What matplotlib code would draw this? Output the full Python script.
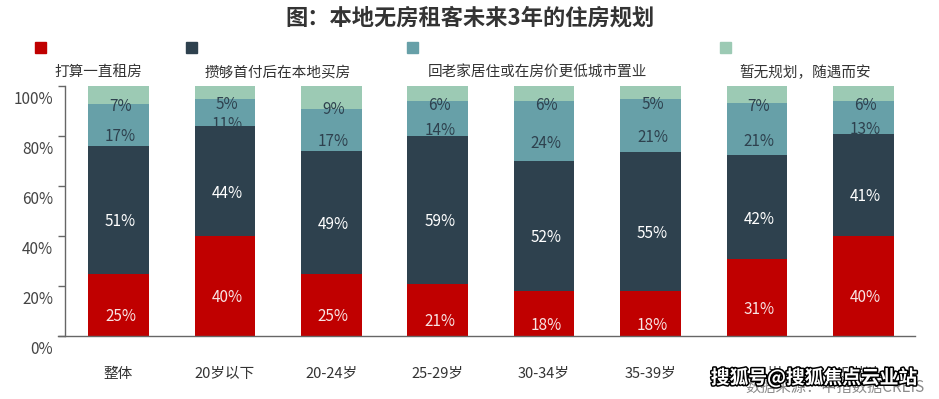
import matplotlib
matplotlib.use("Agg")
import matplotlib.pyplot as plt
import matplotlib.transforms as mtransforms
import matplotlib.patheffects as pe
import numpy as np

plt.rcParams['font.family'] = ['Noto Sans CJK SC', 'DejaVu Sans']

title = "图：本地无房租客未来3年的住房规划"
categories = ["整体", "20岁以下", "20-24岁", "25-29岁", "30-34岁", "35-39岁", "40-44岁", "45岁以上"]
series_names = ["打算一直租房", "攒够首付后在本地买房", "回老家居住或在房价更低城市置业", "暂无规划，随遇而安"]
rent = [25, 40, 25, 21, 18, 18, 31, 40]
buy_local = [51, 44, 49, 59, 52, 55, 42, 41]
go_home = [17, 11, 17, 14, 24, 21, 21, 13]
no_plan = [7, 5, 9, 6, 6, 5, 7, 6]
yticks = [0, 20, 40, 60, 80, 100]
ytick_labels = ["0%", "20%", "40%", "60%", "80%", "100%"]
source = "数据来源：中指数据CREIS"
watermark = "搜狐号@搜狐焦点云业站"

colors = ["#C00000", "#2E414E", "#67A0A8", "#9CCAB4"]
text_colors = ["#F8E4E4", "#FFFFFF", "#2E414E", "#2E414E"]

W, H = 939, 399
fig = plt.figure(figsize=(W / 100, H / 100), dpi=100)
ax = fig.add_axes([65 / W, 1 - 336 / H, (915 - 65) / W, (336 - 86) / H])

data = np.array([rent, buy_local, go_home, no_plan], dtype=float)
totals = data.sum(axis=0)
heights = data / totals * 100
x = np.arange(len(categories))
bottom = np.zeros(len(categories))
text_off = mtransforms.offset_copy(ax.transData, fig=fig, x=2, y=-12, units='dots')
for k in range(4):
    ax.bar(x, heights[k], width=0.57, bottom=bottom, color=colors[k], linewidth=0, zorder=2)
    for i in range(len(categories)):
        ax.text(x[i], bottom[i] + heights[k][i] / 2, f"{int(data[k][i])}%",
                ha='center', va='center', fontsize=11, color=text_colors[k],
                transform=text_off, zorder=3)
    bottom += heights[k]

ax.set_xlim(-0.503, 7.486)
ax.set_ylim(0, 100)
ax.set_yticks(yticks)
ax.set_yticklabels(ytick_labels, fontsize=11, color="#444444")
ax.set_xticks(x)
ax.set_xticklabels(categories, fontsize=10.5, color="#333333")
ax.tick_params(axis='x', length=0, pad=22)
ax.tick_params(axis='y', length=5, width=1, color="#666666", pad=3.5)
for lab in ax.get_yticklabels():
    lab.set_transform(lab.get_transform() + mtransforms.ScaledTranslation(0, -11 / 100, fig.dpi_scale_trans))
for s in ["top", "right"]:
    ax.spines[s].set_visible(False)
for s in ["left", "bottom"]:
    ax.spines[s].set_color("#666666")
    ax.spines[s].set_linewidth(1)
ax.spines["bottom"].set_bounds(-0.57, 7.486)
ax.spines["bottom"].set_clip_on(False)

fig.text(470 / W, 1 - 18 / H, title, ha='center', va='center', fontsize=16,
         fontweight='bold', color="#333333")

sq_x = [35, 186, 407, 720]
txt_x = [54, 205, 428, 739]
for k in range(4):
    fig.patches.append(plt.Rectangle((sq_x[k] / W, 1 - 53 / H), 11 / W, 11 / H,
                                     transform=fig.transFigure, color=colors[k]))
    fig.text(txt_x[k] / W, 1 - 72 / H, series_names[k], ha='left', va='center',
             fontsize=10.5, color="#333333")

fig.text(925 / W, 1 - 387 / H, source, ha='right', va='center', fontsize=11, color="#8a8a8a")
fig.text(814 / W, 1 - 378 / H, watermark, ha='center', va='center', fontsize=13.5,
         fontweight='bold', color="white",
         path_effects=[pe.withStroke(linewidth=2.2, foreground="black")])

fig.savefig("out.png", dpi=100)
